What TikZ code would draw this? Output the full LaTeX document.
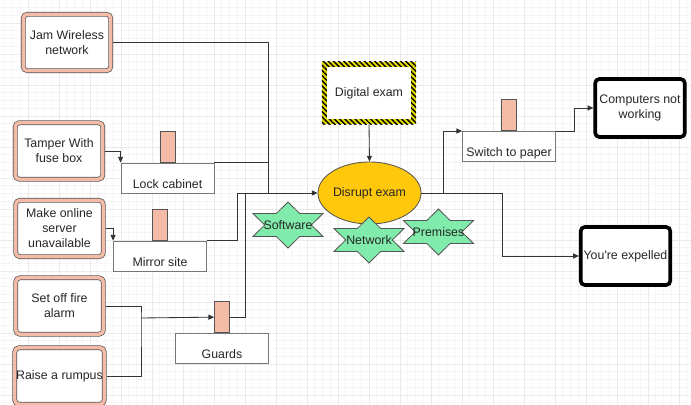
\documentclass[tikz,border=0pt]{standalone}
\usepackage{fontspec}
\newfontfamily\diagfont{Liberation Sans}
\usetikzlibrary{arrows.meta, positioning, calc, shapes.geometric, patterns.meta}
\definecolor{salmonband}{HTML}{F4BBA6}
\definecolor{boxline}{HTML}{555555}
\definecolor{wirec}{HTML}{333333}
\definecolor{examgold}{HTML}{FFC80A}
\definecolor{starmint}{HTML}{80EBAA}
\definecolor{hazard}{HTML}{E3DA00}
\definecolor{gridmajor}{HTML}{EAEAEA}
\definecolor{gridminor}{HTML}{F5F5F5}

\begin{document}
\begin{tikzpicture}[
  x=0.025cm, y=-0.025cm,
  >={Triangle[length=4pt,width=3.6pt]},
  every node/.style={font=\diagfont\fontsize{8.8}{10.7}\selectfont, text=black!85},
  wire/.style={draw=wirec, line width=0.6pt},
  threat/.style={draw=boxline, line width=0.5pt, double=salmonband, double distance=2.4pt, rounded corners=3pt, fill=white,
    minimum width=2.19cm, minimum height=1.41cm, inner sep=1pt, outer sep=1.7pt, align=center},
  task/.style={draw=boxline!80, line width=0.6pt, fill=white, minimum width=2.325cm, minimum height=0.75cm,
    inner sep=2pt, text height=14.8pt, text depth=0pt},
  tab/.style={draw=boxline, line width=0.6pt, fill=salmonband, minimum width=0.375cm, minimum height=0.775cm, inner sep=0pt},
  outcome/.style={draw=black, line width=2.6pt, rounded corners=3pt, fill=white, minimum width=2.24cm, minimum height=1.45cm,
    inner sep=1pt, align=center},
  goal/.style={ellipse, draw=boxline, line width=0.6pt, fill=examgold, minimum width=2.325cm, minimum height=1.55cm, inner sep=0pt},
  hazardbox/.style={minimum width=2.35cm, minimum height=1.55cm, fill=hazard,
    path picture={
      \fill[pattern={Lines[angle=-45,distance=2.6pt,line width=1pt]}, pattern color=black]
        (path picture bounding box.south west) rectangle (path picture bounding box.north east);
      \fill[white] ([shift={(3.6pt,-3.6pt)}]path picture bounding box.north west)
        rectangle ([shift={(-3.6pt,3.6pt)}]path picture bounding box.south east);}},
  hexstar/.style={draw=boxline, line width=0.6pt, fill=starmint}
  ]
  % canvas
  \useasboundingbox (0,0) rectangle (691,405);
  \fill[white] (0,0) rectangle (691,405);
  \foreach \gx in {4.75,12.5,...,691} \draw[gridminor, line width=0.5pt] (\gx,0) -- (\gx,405);
  \foreach \gy in {7.5,15.25,...,405} \draw[gridminor, line width=0.5pt] (0,\gy) -- (691,\gy);
  \foreach \gx in {28,59,...,679} \draw[gridmajor, line width=0.6pt] (\gx,0) -- (\gx,405);
  \foreach \gy in {23,54,...,395} \draw[gridmajor, line width=0.6pt] (0,\gy) -- (691,\gy);

  % threats
  \node[threat] (jam) at (67,42.5) {Jam Wireless\\network};
  \node[threat] (tamper) at (59,151) {Tamper With\\fuse box};
  \node[threat] (server) at (59.5,228.5) {Make online\\server\\unavailable};
  \node[threat] (fire) at (59.5,306) {Set off fire\\alarm};
  \node[threat] (rumpus) at (59.5,376) {Raise a rumpus};

  % controls
  \node[task] (lock) at (167.5,178) {Lock cabinet};
  \node[tab, above=0pt of lock] (locktab) {};
  \node[task] (mirror) at (160,256) {Mirror site};
  \node[tab, above=0pt of mirror] (mirrortab) {};
  \node[task] (guards) at (222,348.5) {Guards};
  \node[tab, above=0pt of guards] (guardtab) {};
  \node[task] (switchbox) at (509,146.5) {Switch to paper};
  \node[tab, above=0pt of switchbox] (switchtab) {};

  % exam
  \node[hazardbox] (digital) at (369,93) {Digital exam};
  \node[goal] (disrupt) at (369.5,193) {Disrupt exam};

  % outcomes
  \node[outcome] (computers) at (640,108) {Computers not\\working};
  \node[outcome] (expelled) at (625.5,256) {You're expelled};

  % links in
  \coordinate (hubR) at (268,193);
  \coordinate (hubG) at (245,193);
  \coordinate (hubL) at (237,193);
  \coordinate (fork) at (141,318);
  \draw[wire] (jam.east) -| (hubR);
  \draw[wire] (lock.north east) -| (hubR);
  \draw[wire,->] (tamper.east) -| (lock.north west);
  \draw[wire,->] (server.east) -| (mirror.north west);
  \draw[wire] (mirror.north east) -| (hubL);
  \draw[wire] (fire.east) -| (fork) |- (rumpus.east);
  \draw[wire,->] (fork) -- (guardtab.west);
  \draw[wire] (guardtab.east) -| (hubG);
  \draw[wire,->] (hubL) -- (disrupt.west);
  \draw[wire,->] (digital.south) -- (disrupt.north);

  % links out
  \draw[wire,->] (disrupt.east) -- ++(22,0) |- (switchbox.north west);
  \draw[wire,->] (disrupt.east) -- ++(81,0) |- (expelled.west);
  \draw[wire,->] (switchbox.north east) -- ++(18,0) |- (computers.west);

  % vectors
  \foreach \name/\cx/\cy/\txt in {software/288/225/Software, network/369/240/Network, premises/438.5/232/Premises} {
    \filldraw[hexstar] (\cx,\cy) +(0,-23) -- +(11.67,-11.5) -- +(35,-11.5) -- +(23.33,0) -- +(35,11.5) -- +(11.67,11.5)
      -- +(0,23) -- +(-11.67,11.5) -- +(-35,11.5) -- +(-23.33,0) -- +(-35,-11.5) -- +(-11.67,-11.5) -- cycle;
    \node (\name) at (\cx,\cy) {\txt};
  }
\end{tikzpicture}
\end{document}
